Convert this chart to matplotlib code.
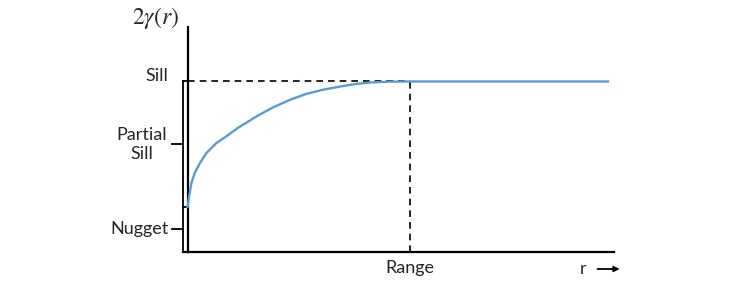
import matplotlib
matplotlib.use('Agg')
import matplotlib.pyplot as plt

plt.rcParams['font.family'] = ['Lato', 'DejaVu Sans']
plt.rcParams['mathtext.fontset'] = 'stix'

# semivariogram shape (range = 1, sill = 1)
nugget = 0.264
sill = 1.0
range_r = 1.0
r_vals = [0.0, 0.007, 0.017, 0.032, 0.055, 0.084, 0.129, 0.174, 0.227,
          0.311, 0.386, 0.461, 0.536, 0.610, 0.685, 0.753, 0.820, 0.910,
          1.0, 1.89]
gamma_vals = [0.264, 0.324, 0.403, 0.462, 0.520, 0.579, 0.638, 0.678, 0.728,
              0.796, 0.849, 0.893, 0.928, 0.952, 0.970, 0.985, 0.994, 0.999,
              1.0, 1.0]

fig = plt.figure(figsize=(7.33, 2.84), dpi=100)
ax = fig.add_axes([0, 0, 1, 1])
ax.set_xlim(-0.843, 2.452)
ax.set_ylim(-0.188, 1.478)
ax.axis('off')

# curve
ax.plot(r_vals, gamma_vals, color='#5b9bd5', lw=1.7, zorder=3,
        solid_joinstyle='round')

# axes
ax.plot([0, 0], [0, 1.32], color='black', lw=1.6)
ax.plot([-0.02, 1.917], [0, 0], color='black', lw=1.6)

# dashed guides
ax.plot([0, range_r], [sill, sill], color='black', lw=1.2, ls=(0, (4, 3)))
ax.plot([range_r, range_r], [0, sill], color='black', lw=1.2, ls=(0, (4, 3)))

# bracket for nugget / partial sill
bx = -0.02
ax.plot([bx, bx], [0, sill], color='black', lw=1.3)
ax.plot([bx, 0], [sill, sill], color='black', lw=1.3)
ax.plot([bx, 0], [nugget, nugget], color='black', lw=1.3)
ax.plot([-0.07, bx], [(nugget + sill) / 2, (nugget + sill) / 2], color='black', lw=1.3)
ax.plot([-0.07, bx], [nugget / 2, nugget / 2], color='black', lw=1.3)

fs = 13
tc = '#262626'
ax.text(-0.085, 1.035, 'Sill', ha='right', va='center', fontsize=fs, color=tc)
ax.text(-0.205, (nugget + sill) / 2, 'Partial\nSill', ha='center', va='center',
        fontsize=fs, linespacing=1.25, color=tc)
ax.text(-0.083, nugget / 2, 'Nugget', ha='right', va='center', fontsize=fs, color=tc)
ax.text(range_r, -0.094, 'Range', ha='center', va='center', fontsize=fs, color=tc)
ax.text(-0.035, 1.37, r'$2\gamma(r)$', ha='right', va='center', fontsize=17, color=tc)
ax.text(1.78, -0.1, 'r', ha='center', va='center', fontsize=fs, color=tc)
ax.annotate('', xy=(1.955, -0.1), xytext=(1.83, -0.1),
            arrowprops=dict(arrowstyle='-|>', color='black', lw=1.3,
                            mutation_scale=8))

fig.savefig('out.png', dpi=100)
